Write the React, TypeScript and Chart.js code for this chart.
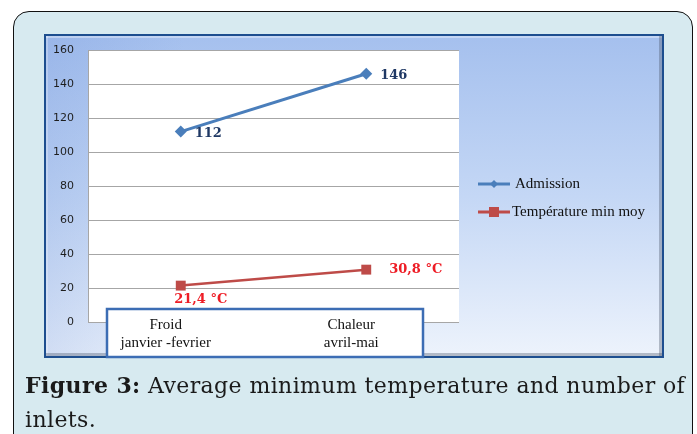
import React, { useEffect, useRef } from 'react';
import { Chart, registerables } from 'chart.js';

Chart.register(...registerables);

// ---- data ----
const categories: string[][] = [
  ['Froid', 'janvier -fevrier'],
  ['Chaleur', 'avril-mai'],
];
const seriesNames = ['Admission', 'Température min moy'];
const admission = [112, 146];
const tempMin = [21.4, 30.8];
const yMin = 0;
const yMax = 160;
const yStep = 20;
const captionBold = 'Figure 3:';
const captionLine1 = ' Average minimum temperature and number of';
const captionLine2 = 'inlets.';

// ---- layout / style ----
const W = 697;
const H = 434;
const FRAME = { l: 45, t: 35, r: 663, b: 357 };
const BOX = { l: 107, t: 309, r: 423, b: 357 };
const BLUE = '#4a7ebb';
const RED = '#be4b48';

const fmtTemp = (v: number) => v.toFixed(1).replace('.', ',') + ' °C';

const framePlugin = {
  id: 'framePlugin',
  beforeDraw(chart: any) {
    const { ctx, chartArea: a } = chart;
    const w = FRAME.r - FRAME.l;
    const h = FRAME.b - FRAME.t;
    ctx.save();
    const g = ctx.createLinearGradient(0, FRAME.t, 0, FRAME.b);
    g.addColorStop(0, '#a5c0ee');
    g.addColorStop(0.5, '#c4d7f5');
    g.addColorStop(1, '#edf3fc');
    ctx.fillStyle = g;
    ctx.fillRect(FRAME.l, FRAME.t, w, h);
    const g2 = ctx.createLinearGradient(FRAME.l, 0, FRAME.l + 140, 0);
    g2.addColorStop(0, 'rgba(110,145,215,0.22)');
    g2.addColorStop(1, 'rgba(110,145,215,0)');
    ctx.fillStyle = g2;
    ctx.fillRect(FRAME.l, FRAME.t, 140, h);
    // bevels
    ctx.fillStyle = 'rgba(255,255,255,0.35)';
    ctx.fillRect(FRAME.l, FRAME.t, w, 3);
    ctx.fillStyle = 'rgba(255,255,255,0.25)';
    ctx.fillRect(FRAME.l, FRAME.t, 3, h);
    ctx.fillStyle = 'rgba(70,80,100,0.35)';
    ctx.fillRect(FRAME.r - 4, FRAME.t, 3, h);
    ctx.fillRect(FRAME.l, FRAME.b - 4, w, 3);
    ctx.strokeStyle = '#1d4e8f';
    ctx.lineWidth = 2;
    ctx.strokeRect(FRAME.l, FRAME.t, w, h);
    // plot area
    ctx.fillStyle = '#ffffff';
    ctx.fillRect(a.left, a.top, a.right - a.left, a.bottom - a.top);
    ctx.restore();
  },
  afterDatasetsDraw(chart: any) {
    const { ctx } = chart;
    ctx.save();
    // category label box
    ctx.fillStyle = '#ffffff';
    ctx.fillRect(BOX.l, BOX.t, BOX.r - BOX.l, BOX.b - BOX.t);
    ctx.strokeStyle = '#3c6db4';
    ctx.lineWidth = 2.5;
    ctx.strokeRect(BOX.l, BOX.t, BOX.r - BOX.l, BOX.b - BOX.t);

    // data labels
    const m0 = chart.getDatasetMeta(0);
    const m1 = chart.getDatasetMeta(1);
    ctx.font = 'bold 13px "DejaVu Serif"';
    ctx.textBaseline = 'middle';
    ctx.fillStyle = '#1f3864';
    ctx.textAlign = 'left';
    m0.data.forEach((p: any, i: number) => {
      ctx.fillText(String(admission[i]), p.x + 14, p.y + 2);
    });
    ctx.fillStyle = '#ee1c25';
    m1.data.forEach((p: any, i: number) => {
      if (i === 0) {
        ctx.textAlign = 'center';
        ctx.fillText(fmtTemp(tempMin[i]), p.x + 20, p.y + 14);
      } else {
        ctx.textAlign = 'left';
        ctx.fillText(fmtTemp(tempMin[i]), p.x + 23, p.y);
      }
    });
    ctx.restore();
  },
  afterDraw(chart: any) {
    const { ctx } = chart;
    ctx.save();
    const items = [
      { y: 184, color: BLUE, shape: 'diamond', tx: 515 },
      { y: 212, color: RED, shape: 'square', tx: 512 },
    ];
    items.forEach((it, i) => {
      ctx.strokeStyle = it.color;
      ctx.lineWidth = 3;
      ctx.beginPath();
      ctx.moveTo(478, it.y);
      ctx.lineTo(510, it.y);
      ctx.stroke();
      ctx.fillStyle = it.color;
      if (it.shape === 'diamond') {
        ctx.beginPath();
        ctx.moveTo(494, it.y - 4);
        ctx.lineTo(498, it.y);
        ctx.lineTo(494, it.y + 4);
        ctx.lineTo(490, it.y);
        ctx.closePath();
        ctx.fill();
      } else {
        ctx.fillRect(489, it.y - 5, 10, 10);
      }
      ctx.fillStyle = '#111111';
      ctx.font = '15px "Liberation Serif"';
      ctx.textAlign = 'left';
      ctx.textBaseline = 'middle';
      ctx.fillText(chart.data.datasets[i].label, it.tx, it.y);
    });
    ctx.restore();
  },
};

function ChartCanvas() {
  const ref = useRef<HTMLCanvasElement | null>(null);
  useEffect(() => {
    if (!ref.current) return;
    const chart = new Chart(ref.current, {
      type: 'line',
      data: {
        labels: categories,
        datasets: [
          {
            label: seriesNames[0],
            data: admission,
            borderColor: BLUE,
            backgroundColor: BLUE,
            borderWidth: 3,
            pointStyle: 'rectRot',
            pointRadius: 6,
            pointBorderWidth: 0,
            tension: 0,
          },
          {
            label: seriesNames[1],
            data: tempMin,
            borderColor: RED,
            backgroundColor: RED,
            borderWidth: 2.5,
            pointStyle: 'rect',
            pointRadius: 7,
            pointBorderWidth: 0,
            tension: 0,
          },
        ],
      },
      options: {
        responsive: false,
        animation: false,
        devicePixelRatio: 1,
        layout: {
          autoPadding: false,
          padding: { left: 44, top: 50, right: W - 459, bottom: 0 },
        },
        plugins: {
          legend: { display: false },
          tooltip: { enabled: false },
        },
        scales: {
          x: {
            offset: true,
            grid: { display: false, drawTicks: false },
            border: { display: false },
            ticks: {
              z: 1,
              mirror: true,
              padding: -12,
              labelOffset: -15,
              maxRotation: 0,
              autoSkip: false,
              color: '#111111',
              font: { family: '"Liberation Serif"', size: 15, lineHeight: 1.2 },
            },
            afterFit(s: any) {
              s.height = H - 322;
            },
          },
          y: {
            min: yMin,
            max: yMax,
            ticks: {
              stepSize: yStep,
              padding: 14,
              color: '#1e1e1e',
              font: { family: '"DejaVu Sans"', size: 11 },
            },
            grid: { color: '#a6a6a6', drawTicks: false, lineWidth: 1 },
            border: { display: true, color: '#a6a6a6' },
            afterFit(s: any) {
              s.width = 44;
            },
          },
        },
      },
      plugins: [framePlugin],
    } as any);
    return () => chart.destroy();
  }, []);
  return (
    <canvas
      ref={ref}
      width={W}
      height={H}
      style={{ position: 'absolute', left: 0, top: 0, width: W, height: H }}
    />
  );
}

export default function App() {
  return (
    <div
      style={{
        position: 'fixed',
        left: 0,
        top: 0,
        width: W,
        height: H,
        overflow: 'hidden',
        background: '#ffffff',
      }}
    >
      <div
        style={{
          position: 'absolute',
          left: 13,
          top: 11,
          width: 678,
          height: 470,
          border: '1.5px solid #111',
          borderRadius: 16,
          background: '#d7eaf0',
        }}
      />
      <ChartCanvas />
      <div
        style={{
          position: 'absolute',
          left: 25,
          top: 368,
          fontFamily: '"DejaVu Serif", serif',
          fontSize: 22,
          letterSpacing: '0.4px',
          lineHeight: '34px',
          color: '#1a1a1a',
          whiteSpace: 'nowrap',
        }}
      >
        <b>{captionBold}</b>
        {captionLine1}
        <br />
        {captionLine2}
      </div>
    </div>
  );
}
